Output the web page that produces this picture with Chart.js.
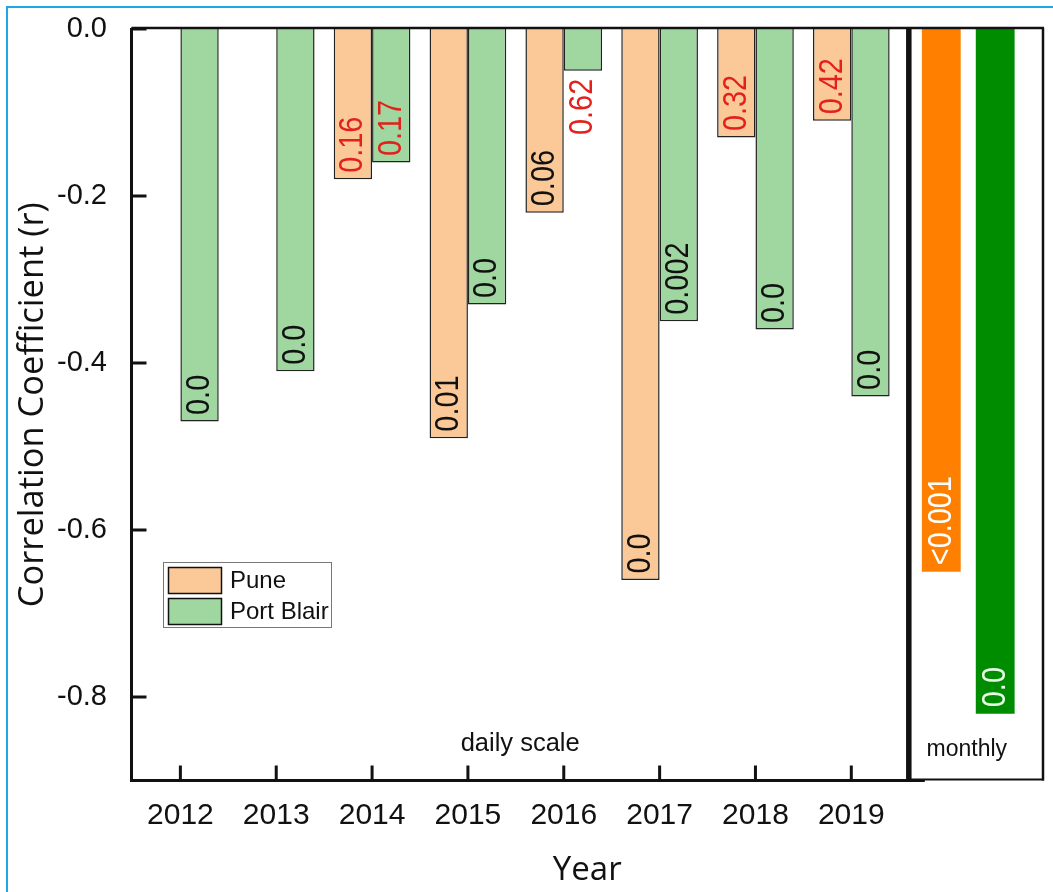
<!DOCTYPE html>
<html>
<head>
<meta charset="utf-8">
<script src="https://cdn.jsdelivr.net/npm/chart.js@4.4.1/dist/chart.umd.min.js"></script>
<style>
  html, body { margin: 0; padding: 0; background: #fff; }
  #wrap { position: relative; width: 1053px; height: 892px; overflow: hidden; }
  #frame { position: absolute; left: 6px; top: 6px; width: 1200px; height: 1000px;
           border-left: 2px solid #1ea6e6; border-top: 2px solid #1ea6e6; }
  canvas { position: absolute; left: 0; top: 0; }
</style>
</head>
<body>
<div id="wrap"><div id="frame"></div><canvas id="c" width="1053" height="892"></canvas></div>
<script>
// daily correlation per year, p-values written on the bars
const years = [2012, 2013, 2014, 2015, 2016, 2017, 2018, 2019];
const puneDaily = [null, null, -0.18, -0.49, -0.22, -0.66, -0.13, -0.11];
const portBlairDaily = [-0.47, -0.41, -0.16, -0.33, -0.05, -0.35, -0.36, -0.44];
const punePDaily = [null, null, '0.16', '0.01', '0.06', '0.0', '0.32', '0.42'];
const portBlairPDaily = ['0.0', '0.0', '0.17', '0.0', '0.62', '0.002', '0.0', '0.0'];

// monthly pair, sits right of the divider on the same year axis
const monthlyX = [2020.22];
const puneMonthly = [-0.65];
const portBlairMonthly = [-0.82];
const punePMonthly = ['<0.001'];
const portBlairPMonthly = ['0.0'];
const dividerX = 2019.6;

const yTicks = [0, -0.2, -0.4, -0.6, -0.8];

const ARIAL = 'Arial, "Liberation Sans", sans-serif';
const RED = '#e3201b';

function points(xs, ys, ps) {
  const out = [];
  xs.forEach((x, i) => { if (ys[i] !== null) out.push({ x: x, y: ys[i], p: ps[i] }); });
  return out;
}

const decor = {
  id: 'decor',
  afterDatasetsDraw(chart) {
    const ctx = chart.ctx;
    const { left, right, top, bottom } = chart.chartArea;
    const xs = chart.scales.x, ys = chart.scales.y;
    const divPx = xs.getPixelForValue(dividerX);

    // p-value labels, rotated, near the end of each bar
    chart.data.datasets.forEach((ds, di) => {
      const meta = chart.getDatasetMeta(di);
      meta.data.forEach((bar, i) => {
        const p = ds.data[i].p;
        if (!p) return;
        const len = bar.y - bar.base;
        ctx.save();
        ctx.font = '34px ' + ARIAL;
        const w = ctx.measureText(p).width * 0.85;
        const inside = w + 12 < len;
        ctx.translate(bar.x, inside ? bar.y - 6.5 : bar.y + 8);
        ctx.rotate(-Math.PI / 2);
        ctx.scale(0.85, 1);
        ctx.textAlign = inside ? 'left' : 'right';
        ctx.textBaseline = 'middle';
        ctx.fillStyle = ds.pColor || (parseFloat(p) > 0.1 ? RED : '#111');
        ctx.fillText(p, 0, 0);
        ctx.restore();
      });
    });

    ctx.save();
    ctx.strokeStyle = '#111';
    ctx.lineCap = 'butt';
    const line = (x1, y1, x2, y2, lw) => {
      ctx.lineWidth = lw;
      ctx.beginPath(); ctx.moveTo(x1, y1); ctx.lineTo(x2, y2); ctx.stroke();
    };
    // frame
    line(left, top - 1, right + 1, top - 1, 2.5);
    line(right, top - 1, right, bottom, 2.5);
    line(divPx, bottom - 1, right + 1, bottom - 1, 2);
    line(left - 1.5, bottom, divPx + 16, bottom, 3);
    line(left, top - 1, left, bottom + 1.5, 3);
    line(divPx, top - 1, divPx, bottom, 5.5);
    // inward ticks
    years.forEach(v => { const px = xs.getPixelForValue(v); line(px, bottom, px, bottom - 15, 3); });
    yTicks.forEach(v => { const py = ys.getPixelForValue(v); line(left, py, left + 15, py, 3); });

    // section captions
    ctx.fillStyle = '#111';
    ctx.textBaseline = 'alphabetic';
    ctx.textAlign = 'center';
    ctx.font = '25.5px ' + ARIAL;
    ctx.fillText('daily scale', (left + divPx) / 2, 751);
    ctx.font = '23px ' + ARIAL;
    ctx.fillText('monthly', divPx + 58, 756);

    // legend
    const lx = 163.5, ly = 562.5;
    ctx.lineWidth = 1;
    ctx.strokeStyle = '#777';
    ctx.strokeRect(lx, ly, 168, 65);
    ctx.font = '24px ' + ARIAL;
    ctx.textAlign = 'left';
    ctx.textBaseline = 'middle';
    [0, 1].forEach(k => {
      const ds = chart.data.datasets[k];
      const sy = ly + 5 + k * 31;
      ctx.fillStyle = ds.backgroundColor;
      ctx.fillRect(lx + 5, sy, 53, 26);
      ctx.lineWidth = 1.5;
      ctx.strokeStyle = '#111';
      ctx.strokeRect(lx + 5, sy, 53, 26);
      ctx.fillStyle = '#111';
      ctx.fillText(ds.label, lx + 66.5, sy + 13.5);
    });
    ctx.restore();
  }
};

new Chart(document.getElementById('c'), {
  type: 'bar',
  data: {
    datasets: [
      { label: 'Pune', data: points(years, puneDaily, punePDaily), stack: 'pune',
        backgroundColor: '#fbc898', borderColor: '#222', borderWidth: 1.5,
        categoryPercentage: 0.8, barPercentage: 1 },
      { label: 'Port Blair', data: points(years, portBlairDaily, portBlairPDaily), stack: 'pb',
        backgroundColor: '#a0d6a0', borderColor: '#222', borderWidth: 1.5,
        categoryPercentage: 0.8, barPercentage: 1 },
      { label: 'Pune monthly', data: points(monthlyX, puneMonthly, punePMonthly), stack: 'pune',
        backgroundColor: '#ff8000', borderWidth: 0, pColor: '#ffffff',
        categoryPercentage: 1.125, barPercentage: 0.72 },
      { label: 'Port Blair monthly', data: points(monthlyX, portBlairMonthly, portBlairPMonthly), stack: 'pb',
        backgroundColor: '#008c00', borderWidth: 0, pColor: '#e6ffe6',
        categoryPercentage: 1.125, barPercentage: 0.72 }
    ]
  },
  options: {
    responsive: false,
    animation: false,
    devicePixelRatio: 1,
    layout: { padding: { left: 0, top: 29, right: 10, bottom: 0 } },
    plugins: { legend: { display: false }, tooltip: { enabled: false } },
    scales: {
      x: {
        type: 'linear', min: 2011.49, max: 2021, offset: false,
        grid: { display: false, offset: false }, border: { display: false },
        afterBuildTicks: s => { s.ticks = years.map(v => ({ value: v })); },
        afterFit: s => { s.height = 892 - 780.5; s.paddingLeft = 0; s.paddingRight = 0; },
        ticks: { padding: 9, color: '#111', autoSkip: false, maxRotation: 0,
                 font: { family: ARIAL, size: 30 }, callback: v => String(v) },
        title: { display: true, text: 'Year', color: '#111',
                 font: { family: '"Open Sans", sans-serif', size: 33 },
                 padding: { top: 0, bottom: 2 } }
      },
      y: {
        min: -0.9, max: 0, stacked: false,
        grid: { display: false }, border: { display: false },
        afterBuildTicks: s => { s.ticks = yTicks.map(v => ({ value: v })); },
        afterFit: s => { s.width = 131.5; s.paddingTop = 0; s.paddingBottom = 0; },
        ticks: { padding: 16.5, color: '#111', font: { family: ARIAL, size: 29 },
                 callback: v => v.toFixed(1) },
        title: { display: true, text: 'Correlation Coefficient (r)', color: '#111',
                 font: { family: '"Open Sans", sans-serif', size: 34.5 },
                 padding: { top: 12, bottom: 0 } }
      }
    }
  },
  plugins: [decor]
});
</script>
</body>
</html>
